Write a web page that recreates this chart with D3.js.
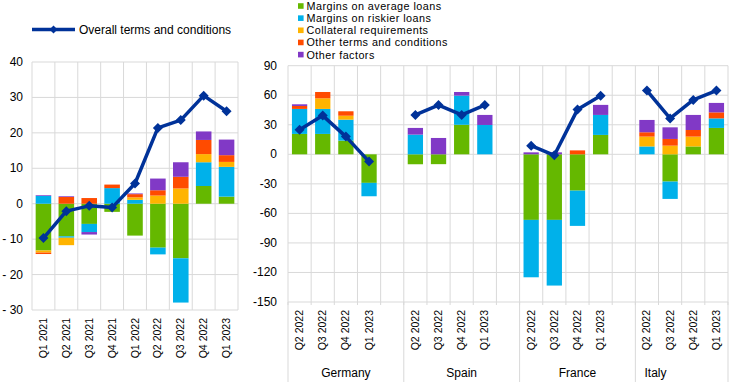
<!DOCTYPE html>
<html><head><meta charset="utf-8">
<script src="https://cdn.jsdelivr.net/npm/d3@7"></script>
<style>
body{margin:0;background:#fff;}
svg text{font-family:"Liberation Sans",Arial,sans-serif;fill:#000;}
</style></head>
<body>
<svg id="c" width="744" height="383"></svg>
<script>
// ---------- DATA ----------
const seriesNames = ["Margins on average loans","Margins on riskier loans","Collateral requirements","Other terms and conditions","Other factors"];
const seriesColors = ["#65b800","#00b1ea","#ffb400","#ff4b00","#8139c6"];
const lineName = "Overall terms and conditions";

// Left panel (euro area)
const leftCats = ["Q1 2021","Q2 2021","Q3 2021","Q4 2021","Q1 2022","Q2 2022","Q3 2022","Q4 2022","Q1 2023"];
const leftAvg     = [-13.2,-9.2,-5.7,-2.3,-9.0,-12.4,-15.4, 5.0, 2.0];
const leftRiskier = [  2.2,-0.4,-2.3, 4.4, 1.1, -1.9,-12.5, 6.7, 8.4];
const leftColl    = [ -0.6,-2.1, 0.0, 0.0, 0.7,  2.3,  4.3, 2.3, 1.4];
const leftOther   = [ -0.4, 1.9, 1.6, 1.0, 0.9,  1.5,  3.3, 4.0, 1.9];
const leftFactors = [  0.2, 0.2,-0.7, 0.0, 0.2,  3.3,  4.1, 2.4, 4.4];
const leftOverall = [ -9.7,-2.1,-0.6,-1.1, 5.7, 21.4, 23.6,30.5,26.1];
const leftTicks = [40,30,20,10,0,-10,-20,-30];
const leftTickLabels = ["40","30","20","10","0","- 10","- 20","- 30"];

// Right panel (countries)
const countries = ["Germany","Spain","France","Italy"];
const quarters = ["Q2 2022","Q3 2022","Q4 2022","Q1 2023"];
const rightAvg     = [[20.7,20.7,13.9,-29.0],[-10.1,-10.0,30.0, 0.0],[-66.6,-66.6,-36.9,19.7],[ 0.0,-27.7, 8.0,26.8]];
const rightRiskier = [[25.4,25.4,21.3,-13.6],[ 20.0,  0.0,29.6,29.8],[-58.3,-66.7,-35.8,20.3],[ 8.0,-17.6, 0.0, 9.7]];
const rightColl    = [[ 0.0,10.8, 4.0,  0.0],[  0.0,  0.0, 0.0, 0.0],[  0.0,  0.0,  0.0, 0.0],[10.0,  8.8,10.0, 0.0]];
const rightOther   = [[ 3.0, 6.4, 4.5,  0.0],[  0.0,  0.0, 0.0, 0.0],[  0.0,  0.0,  4.0, 0.0],[ 4.4,  6.8, 6.7, 6.1]];
const rightFactors = [[ 1.7, 0.0, 0.0,  0.0],[  6.8, 16.6, 3.7,10.2],[  2.0,  2.0,  0.0,10.2],[12.5, 11.8,15.3, 9.6]];
const rightOverall = [[25.0,39.3,18.0, -7.4],[ 40.0, 50.0,40.0,50.0],[  8.8, -1.0, 45.4,59.6],[64.7, 36.5,55.2,64.7]];
const rightTicks = [90,60,30,0,-30,-60,-90,-120,-150];

// ---------- DRAW ----------
const svg = d3.select("#c");
const grid = "#d9d9d9";
const lineColor = "#003299";
const diamond = "M0,-5L5,0L0,5L-5,0Z";

function stackRows(cats, cols){
  return cats.map((c,i)=>{ const o={key:c}; seriesNames.forEach((s,j)=>o[s]=cols[j][i]); return o;});
}
const stack = d3.stack().keys(seriesNames).offset(d3.stackOffsetDiverging);

// ---- Left panel ----
{
  const x = d3.scaleBand().domain(leftCats).range([32,238]).paddingInner(0.32).paddingOuter(0.16);
  const xb = d3.scaleBand().domain(leftCats).range([32,238]);
  const y = d3.scaleLinear().domain([-30,40]).range([310,62]);
  const g = svg.append("g");
  g.selectAll(".hg").data(leftTicks).join("line")
    .attr("x1",32).attr("x2",238).attr("y1",d=>y(d)).attr("y2",d=>y(d)).attr("stroke",grid);
  const vb = leftCats.map(c=>xb(c)).concat([238]);
  g.selectAll(".vg").data(vb).join("line")
    .attr("x1",d=>d).attr("x2",d=>d).attr("y1",62).attr("y2",310).attr("stroke",grid);
  g.selectAll(".yt").data(leftTicks).join("text")
    .attr("x",23).attr("y",d=>y(d)+4).attr("text-anchor","end").attr("font-size",12)
    .text((d,i)=>leftTickLabels[i]);
  const rows = stackRows(leftCats,[leftAvg,leftRiskier,leftColl,leftOther,leftFactors]);
  const st = stack(rows);
  st.forEach((s,j)=>{
    g.append("g").selectAll("rect").data(s).join("rect")
      .attr("x",d=>x(d.data.key)).attr("width",x.bandwidth())
      .attr("y",d=>y(Math.max(d[0],d[1]))).attr("height",d=>Math.abs(y(d[0])-y(d[1])))
      .attr("fill",seriesColors[j]);
  });
  const line = d3.line().x((d,i)=>xb(leftCats[i])+xb.bandwidth()/2).y(d=>y(d));
  g.append("path").attr("d",line(leftOverall)).attr("fill","none").attr("stroke",lineColor).attr("stroke-width",3.5).attr("stroke-linejoin","round");
  g.selectAll(".mk").data(leftOverall).join("path")
    .attr("d",diamond).attr("fill",lineColor)
    .attr("transform",(d,i)=>`translate(${xb(leftCats[i])+xb.bandwidth()/2},${y(d)})`);
  g.selectAll(".xl").data(leftCats).join("text")
    .attr("transform",d=>`translate(${xb(d)+xb.bandwidth()/2+3.5},318) rotate(-90)`)
    .attr("text-anchor","end").attr("font-size",10.5).text(d=>d);
  // legend
  g.append("line").attr("x1",32).attr("x2",75).attr("y1",29.5).attr("y2",29.5).attr("stroke",lineColor).attr("stroke-width",3.5);
  g.append("path").attr("d",diamond).attr("fill",lineColor).attr("transform","translate(53.5,29.5) scale(0.8)");
  g.append("text").attr("x",79).attr("y",33.8).attr("font-size",12).text(lineName);
}

// ---- Right panel ----
{
  const keys = [];
  countries.forEach((c,ci)=>{ quarters.forEach(q=>keys.push(c+"|"+q)); if(ci<countries.length-1) keys.push("gap"+ci); });
  const xb = d3.scaleBand().domain(keys).range([288,728]);
  const bw = xb.bandwidth();
  const barW = bw*0.66;
  const y = d3.scaleLinear().domain([-150,90]).range([302,65.7]);
  const g = svg.append("g");
  g.selectAll(".hg").data(rightTicks).join("line")
    .attr("x1",288).attr("x2",728).attr("y1",d=>y(d)).attr("y2",d=>y(d)).attr("stroke",grid);
  const vb = keys.map(k=>xb(k)).concat([728]);
  g.selectAll(".vg").data(vb).join("line")
    .attr("x1",d=>d).attr("x2",d=>d).attr("y1",65.7).attr("y2",305).attr("stroke",grid);
  const seps = countries.map((c,ci)=>xb(c+"|"+quarters[0])).concat([728]);
  g.selectAll(".sep").data(seps).join("line")
    .attr("x1",d=>d).attr("x2",d=>d).attr("y1",302).attr("y2",382).attr("stroke",grid);
  g.selectAll(".yt").data(rightTicks).join("text")
    .attr("x",277).attr("y",d=>y(d)+4).attr("text-anchor","end").attr("font-size",12).text(d=>d);
  countries.forEach((c,ci)=>{
    const cats = quarters.map(q=>c+"|"+q);
    const rows = stackRows(cats,[rightAvg[ci],rightRiskier[ci],rightColl[ci],rightOther[ci],rightFactors[ci]]);
    const st = stack(rows);
    st.forEach((s,j)=>{
      g.append("g").selectAll("rect").data(s.filter(d=>d[1]!==d[0])).join("rect")
        .attr("x",d=>xb(d.data.key)+(bw-barW)/2).attr("width",barW)
        .attr("y",d=>y(Math.max(d[0],d[1]))).attr("height",d=>Math.abs(y(d[0])-y(d[1])))
        .attr("fill",seriesColors[j]);
    });
    const cx = i=>xb(cats[i])+bw/2;
    const line = d3.line().x((d,i)=>cx(i)).y(d=>y(d));
    g.append("path").attr("d",line(rightOverall[ci])).attr("fill","none").attr("stroke",lineColor).attr("stroke-width",3.5).attr("stroke-linejoin","round");
    g.append("g").selectAll("path").data(rightOverall[ci]).join("path")
      .attr("d",diamond).attr("fill",lineColor)
      .attr("transform",(d,i)=>`translate(${cx(i)},${y(d)})`);
    g.append("g").selectAll("text").data(quarters).join("text")
      .attr("transform",(d,i)=>`translate(${cx(i)+3.5},310) rotate(-90)`)
      .attr("text-anchor","end").attr("font-size",10.5).text(d=>d);
    const start = xb(cats[0]);
    const lx = ci<countries.length-1 ? start+2.5*bw : start+0.87*bw;
    g.append("text").attr("x",lx).attr("y",377).attr("text-anchor","middle").attr("font-size",12).text(c);
  });
  // legend
  const lg = g.append("g");
  seriesNames.forEach((s,i)=>{
    const cy = 6+i*12.15;
    lg.append("rect").attr("x",298).attr("y",cy-2.8).attr("width",5.6).attr("height",5.6).attr("fill",seriesColors[i]);
    lg.append("text").attr("x",306.5).attr("y",cy+3.9).attr("font-size",10.8).attr("letter-spacing",0.45).text(s);
  });
}
</script>
</body></html>
